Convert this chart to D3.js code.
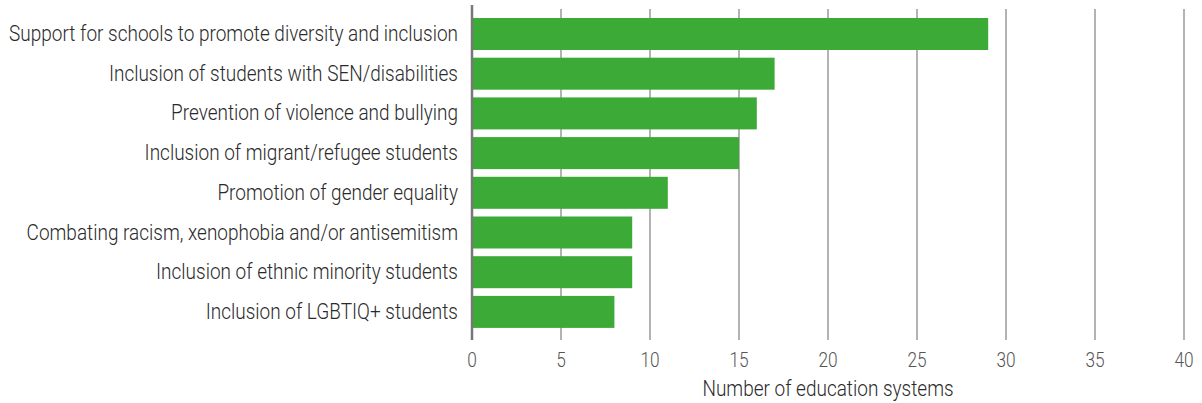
<!DOCTYPE html>
<html><head><meta charset="utf-8">
<script src="https://cdn.jsdelivr.net/npm/d3@7"></script>
<style>body{margin:0;background:#fff;} svg{display:block;} text{font-family:Roboto, sans-serif;font-weight:300;}</style>
</head><body>
<svg id="c" width="1202" height="403"></svg>
<script>
const categories = [
  "Support for schools to promote diversity and inclusion",
  "Inclusion of students with SEN/disabilities",
  "Prevention of violence and bullying",
  "Inclusion of migrant/refugee students",
  "Promotion of gender equality",
  "Combating racism, xenophobia and/or antisemitism",
  "Inclusion of ethnic minority students",
  "Inclusion of LGBTIQ+ students"
];
const values = [29, 17, 16, 15, 11, 9, 9, 8];
const xTicks = [0, 5, 10, 15, 20, 25, 30, 35, 40];
const xTitle = "Number of education systems";

const svg = d3.select("#c");
const x = d3.scaleLinear().domain([0, 40]).range([472, 1184]);
const y = d3.scaleBand().domain(categories).range([14.15, 331.75]).paddingInner(0.194).paddingOuter(0.097);

// gridlines
svg.append("g").selectAll("line").data(xTicks.filter(d => d > 0)).join("line")
  .attr("x1", d => x(d)).attr("x2", d => x(d))
  .attr("y1", 9).attr("y2", 340)
  .attr("stroke", "#9a9a9a").attr("stroke-width", 1.5);

// bars
svg.append("g").selectAll("rect").data(values).join("rect")
  .attr("x", x(0)).attr("y", (d, i) => y(categories[i]))
  .attr("width", d => x(d) - x(0)).attr("height", y.bandwidth())
  .attr("fill", "#3caa36");

// baseline axis
svg.append("line").attr("x1", x(0)).attr("x2", x(0)).attr("y1", 5).attr("y2", 340)
  .attr("stroke", "#777").attr("stroke-width", 2.5);

// category labels (condensed horizontally to match the narrow source face)
const labels = svg.append("g").selectAll("text").data(categories).join("text")
  .attr("text-anchor", "end")
  .attr("font-size", 22).attr("fill", "#2a2a2a")
  .text(d => d);
const w0 = labels.node().getComputedTextLength();
const sx = 449 / w0;
labels.attr("transform", d => `translate(458,${y(d) + y.bandwidth() / 2 + 7}) scale(${sx},1)`);

// x tick labels
svg.append("g").selectAll("text").data(xTicks).join("text")
  .attr("text-anchor", "middle").attr("font-size", 20).attr("fill", "#555")
  .attr("transform", d => `translate(${x(d)},367) scale(${sx},1)`)
  .text(d => d);

svg.append("text").attr("text-anchor", "middle")
  .attr("transform", `translate(${x(20)},396) scale(${sx},1)`)
  .attr("font-size", 22).attr("fill", "#2a2a2a").text(xTitle);
</script>
</body></html>
